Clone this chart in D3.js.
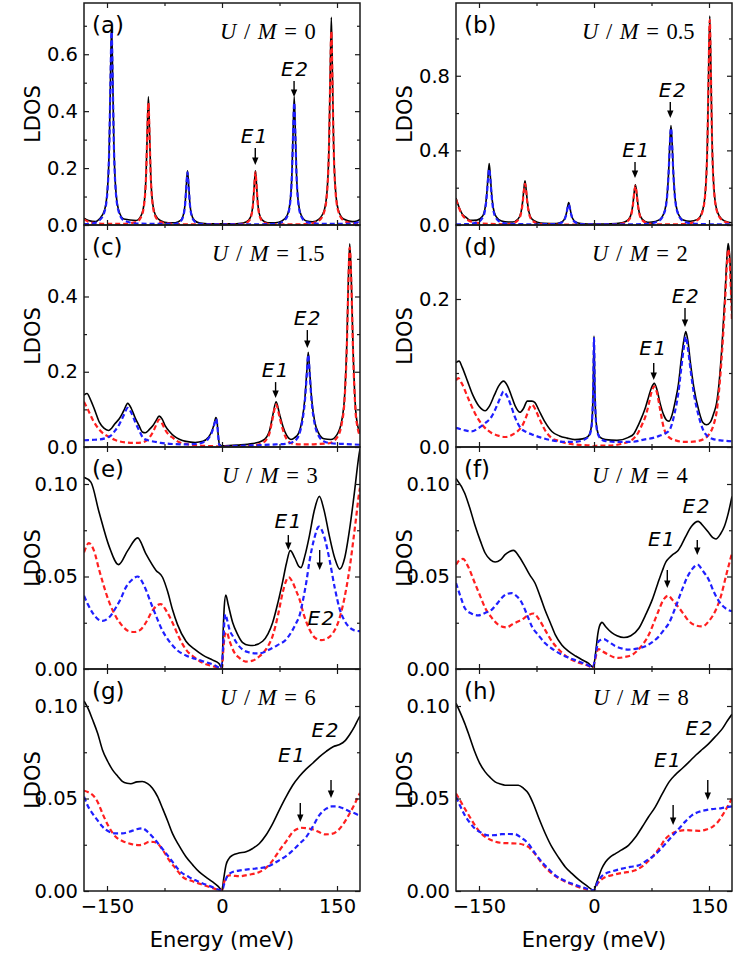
<!DOCTYPE html>
<html><head><meta charset="utf-8">
<script src="https://cdn.jsdelivr.net/npm/d3@7"></script>
<style>body{margin:0;background:#fff}svg{display:block}</style>
</head><body><svg id="c" width="734" height="956"></svg>
<script>
// ---------------- DATA ([energy meV, LDOS]) ----------------
const aBlack=[[-180,.024],[-174,.016],[-165,.012],[-160,.021],[-153,.054],[-149,.141],[-147,.284],[-145.5,.51],[-144,.70],[-142.5,.51],[-141,.284],[-139,.141],[-135,.054],[-128,.021],[-112,.016],[-105,.036],[-101,.09],[-99,.18],[-97.5,.325],[-96,.45],[-94.5,.325],[-93,.18],[-91,.09],[-87,.036],[-80,.015],[-70,.008],[-61,.008],[-54,.016],[-50,.040],[-48,.079],[-46.5,.14],[-45,.19],[-43.5,.14],[-42,.079],[-40,.040],[-36,.016],[-29,.007],[-10,.004],[10,.004],[27.6,.007],[34.6,.016],[38.6,.040],[40.6,.079],[42.1,.14],[43.6,.19],[45.1,.14],[46.6,.079],[48.6,.040],[52.6,.017],[59.6,.008],[70,.008],[78.2,.014],[85.2,.035],[89.2,.09],[91.2,.18],[92.7,.325],[94.2,.45],[95.7,.325],[97.2,.18],[99.2,.09],[103.2,.035],[110.2,.014],[118,.011],[126.6,.021],[133.6,.054],[137.6,.141],[139.6,.284],[141.1,.52],[142.6,.73],[144.1,.52],[145.6,.284],[147.6,.141],[151.6,.054],[158.6,.021],[170,.012],[176,.014],[180,.02]];
const aRed=[[-180,.020],[-174,.011],[-165,.006],[-150,.004],[-130,.004],[-112,.010],[-105,.031],[-101,.086],[-99,.176],[-97.5,.316],[-96,.43],[-94.5,.316],[-93,.176],[-91,.086],[-87,.031],[-80,.010],[-60,.003],[-20,.002],[10,.002],[27.6,.004],[34.6,.013],[38.6,.037],[40.6,.076],[42.1,.136],[43.6,.185],[45.1,.136],[46.6,.076],[48.6,.037],[52.6,.013],[59.6,.004],[80,.002],[110,.003],[126.6,.016],[133.6,.049],[137.6,.136],[139.6,.279],[141.1,.5],[142.6,.68],[144.1,.5],[145.6,.279],[147.6,.136],[151.6,.049],[158.6,.016],[170,.006],[180,.004]];
const aBlue=[[-180,.003],[-170,.005],[-160,.016],[-153,.049],[-149,.136],[-147,.279],[-145.5,.5],[-144,.68],[-142.5,.5],[-141,.279],[-139,.136],[-135,.049],[-128,.016],[-110,.005],[-75,.004],[-61,.004],[-54,.013],[-50,.037],[-48,.076],[-46.5,.136],[-45,.185],[-43.5,.136],[-42,.076],[-40,.037],[-36,.013],[-29,.004],[-10,.002],[30,.002],[70,.004],[78.2,.010],[85.2,.031],[89.2,.086],[91.2,.176],[92.7,.316],[94.2,.43],[95.7,.316],[97.2,.176],[99.2,.086],[103.2,.031],[110.2,.010],[130,.004],[160,.004],[175,.008],[180,.012]];

const bBlack=[[-180,.145],[-176,.095],[-172,.06],[-166,.038],[-161.7,.025],[-152.7,.026],[-145.7,.045],[-141.7,.10],[-139.7,.175],[-138.2,.26],[-136.7,.33],[-135.2,.26],[-133.7,.175],[-131.7,.10],[-127.7,.045],[-120.7,.022],[-111.7,.016],[-106,.016],[-99,.032],[-95,.072],[-93,.128],[-91.5,.19],[-90,.237],[-88.5,.19],[-87,.128],[-85,.072],[-81,.032],[-74,.015],[-65,.009],[-49,.008],[-42,.016],[-38,.036],[-36,.063],[-34.5,.095],[-33,.12],[-31.5,.095],[-30,.063],[-28,.036],[-24,.016],[-17,.008],[0,.005],[29,.008],[38,.013],[45,.029],[49,.067],[51,.12],[52.5,.178],[54,.215],[55.5,.178],[57,.12],[59,.067],[63,.03],[70,.015],[75.4,.016],[84.4,.026],[91.4,.066],[95.4,.16],[97.4,.29],[98.9,.44],[100.4,.533],[101.9,.44],[103.4,.29],[105.4,.16],[109.4,.066],[116.4,.027],[125.4,.02],[135,.03],[142,.083],[146,.224],[148,.455],[149.5,.82],[151,1.12],[152.5,.82],[154,.455],[156,.224],[160,.083],[167,.03],[175,.015],[180,.012]];
const bRed=[[-180,.138],[-176,.09],[-172,.055],[-166,.03],[-158,.015],[-145,.008],[-115,.004],[-106,.009],[-99,.026],[-95,.066],[-93,.121],[-91.5,.183],[-90,.22],[-88.5,.183],[-87,.121],[-85,.066],[-81,.026],[-74,.009],[-65,.004],[-30,.002],[0,.002],[25,.003],[29,.004],[38,.009],[45,.025],[49,.063],[51,.116],[52.5,.174],[54,.21],[55.5,.174],[57,.116],[59,.063],[63,.025],[70,.009],[79,.004],[100,.003],[120,.006],[135,.026],[142,.079],[146,.22],[148,.45],[149.5,.81],[151,1.10],[152.5,.81],[154,.45],[156,.22],[160,.079],[167,.026],[175,.012],[180,.009]];
const bBlue=[[-180,.003],[-170,.004],[-161.7,.006],[-152.7,.013],[-145.7,.036],[-141.7,.09],[-139.7,.165],[-138.2,.249],[-136.7,.30],[-135.2,.249],[-133.7,.165],[-131.7,.09],[-127.7,.036],[-120.7,.013],[-111.7,.006],[-80,.004],[-49,.005],[-42,.013],[-38,.033],[-36,.06],[-34.5,.091],[-33,.11],[-31.5,.091],[-30,.06],[-28,.033],[-24,.013],[-17,.005],[0,.003],[40,.003],[70,.006],[75.4,.009],[84.4,.021],[91.4,.062],[95.4,.156],[97.4,.286],[98.9,.43],[100.4,.52],[101.9,.43],[103.4,.286],[105.4,.156],[109.4,.062],[116.4,.021],[125.4,.009],[150,.004],[180,.003]];

const cBlack=[[-180,.138],[-176,.142],[-172,.128],[-166,.098],[-160,.066],[-154,.05],[-148,.044],[-144,.05],[-140,.061],[-134,.075],[-128,.097],[-123,.116],[-118,.101],[-113,.076],[-108,.056],[-104,.04],[-100,.038],[-95,.046],[-90,.057],[-86,.07],[-82,.082],[-78,.074],[-74,.056],[-68,.04],[-62,.028],[-55,.02],[-47,.015],[-35,.012],[-25,.015],[-18,.025],[-13,.043],[-10,.063],[-8,.078],[-6.5,.068],[-5,.033],[-3.5,.008],[0,.003],[20,.005],[40,.009],[52,.016],[58,.026],[62,.043],[66,.082],[70.6,.12],[75,.088],[79.4,.055],[84,.032],[90,.02],[95,.025],[100,.037],[104,.067],[108,.127],[110.5,.197],[112.5,.252],[114.5,.197],[117,.127],[121,.067],[126,.037],[133,.022],[142,.02],[150,.033],[156,.068],[160,.138],[163,.288],[165,.458],[166.6,.54],[168.5,.458],[171,.258],[174,.108],[177,.057],[180,.036]];
const cRed=[[-180,.12],[-175,.10],[-168,.07],[-160,.046],[-152,.032],[-147,.027],[-140,.019],[-134,.015],[-125,.012],[-115,.011],[-105,.012],[-97,.02],[-90,.04],[-86,.058],[-82,.073],[-78,.062],[-74,.045],[-68,.03],[-64.5,.025],[-58,.015],[-47,.008],[-30,.004],[-10,.002],[0,.001],[20,.002],[40,.004],[52,.01],[58,.02],[62,.037],[66,.075],[70.6,.113],[75,.08],[79.4,.046],[84,.022],[90,.01],[100,.007],[112,.007],[125,.008],[140,.01],[150,.025],[156,.06],[160,.13],[163,.28],[165,.45],[166.6,.53],[168.5,.45],[171,.25],[174,.1],[177,.05],[180,.03]];
const cBlue=[[-180,.018],[-170,.019],[-160,.02],[-150,.025],[-145,.03],[-140,.042],[-134,.06],[-128,.085],[-123,.104],[-118,.09],[-113,.065],[-108,.044],[-102,.022],[-95,.017],[-88,.014],[-80,.011],[-65,.008],[-50,.007],[-35,.008],[-25,.012],[-18,.022],[-13,.04],[-10,.06],[-8,.075],[-6.5,.065],[-5,.03],[-3.5,.005],[0,.001],[20,.003],[50,.005],[70,.007],[85,.009],[92,.013],[97,.02],[100,.03],[104,.06],[108,.12],[110.5,.19],[112.5,.245],[114.5,.19],[117,.12],[121,.06],[126,.03],[133,.015],[142,.01],[160,.008],[180,.006]];

const dBlack=[[-180,.114],[-176,.116],[-172,.108],[-165,.089],[-158,.07],[-150,.055],[-142,.049],[-136,.056],[-130,.07],[-124,.083],[-118,.089],[-113,.083],[-108,.07],[-103,.056],[-96.5,.047],[-92,.052],[-87,.062],[-81,.062],[-77,.06],[-72,.05],[-64,.034],[-55,.021],[-45,.015],[-35,.012],[-25,.01],[-15,.011],[-8,.014],[-4,.024],[-2,.047],[-1,.082],[0,.15],[1,.082],[2,.047],[4,.024],[8,.013],[15,.01],[30,.009],[45,.013],[52,.018],[58,.03],[63,.042],[67,.053],[71,.067],[75,.08],[78.6,.086],[82,.078],[86,.06],[91,.043],[95,.036],[98,.035],[102,.044],[106,.062],[110,.084],[114,.12],[117,.143],[119.7,.156],[122.5,.143],[126,.112],[130,.082],[137,.048],[142,.033],[146.7,.03],[152,.034],[156,.045],[160,.06],[163,.085],[167,.138],[171,.208],[173.5,.258],[175,.275],[177,.258],[179,.21],[180,.18]];
const dRed=[[-180,.09],[-177,.093],[-172,.085],[-165,.068],[-155.5,.046],[-145,.029],[-133.6,.019],[-124,.015],[-116,.0135],[-106,.017],[-99,.022],[-94,.028],[-88,.042],[-84,.053],[-81,.057],[-77,.052],[-72,.04],[-64,.023],[-55,.012],[-45,.008],[-37.5,.0054],[-20,.003],[-5,.002],[0,.001],[5,.002],[20,.002],[35,.004],[50,.01],[58,.02],[63,.031],[67,.041],[71,.056],[75,.074],[78.6,.082],[82,.074],[86,.052],[91,.026],[98,.013],[106.5,.009],[115,.007],[124,.0068],[135,.008],[145,.012],[150,.017],[156,.03],[160,.048],[163,.075],[167,.128],[171,.198],[173.5,.25],[175,.267],[177,.25],[179,.2],[180,.17]];
const dBlue=[[-180,.026],[-170,.023],[-160,.021],[-150,.026],[-142,.032],[-133.6,.041],[-127,.055],[-122,.067],[-118,.075],[-113,.068],[-108,.055],[-103,.04],[-96,.026],[-88,.02],[-81,.017],[-70,.013],[-55,.009],[-40,.007],[-25,.007],[-15,.009],[-8,.013],[-4,.022],[-2,.045],[-1,.08],[0,.147],[1,.08],[2,.045],[4,.022],[8,.012],[15,.008],[30,.007],[50,.007],[65,.01],[76,.012],[85,.015],[92,.018],[98,.022],[105,.045],[110,.073],[114,.108],[117,.133],[119.7,.149],[122.5,.133],[126,.104],[130,.074],[137,.04],[145,.018],[154.6,.011],[165,.009],[180,.0077]];

const eBlack=[[-180,.1036],[-171,.101],[-160.5,.085],[-147,.066],[-135,.0564],[-123,.064],[-110,.0709],[-99.4,.0624],[-86,.0533],[-77.6,.0496],[-71,.042],[-64.5,.032],[-58,.024],[-47,.015],[-35,.0105],[-25,.0075],[-12,.0048],[-4,.003],[0,.0005],[1.5,.02],[3,.034],[5,.040],[8,.035],[14,.025],[20,.019],[27,.0142],[35,.0128],[40,.0127],[53,.015],[60,.019],[66,.025],[73,.036],[79,.047],[84,.057],[89,.064],[95,.06],[100,.0555],[103,.0548],[108,.061],[114,.072],[120,.085],[127,.0933],[133,.086],[140,.072],[147,.06],[153.5,.054],[160,.06],[166.6,.076],[172,.093],[178.8,.116],[180,.119]];
const eRed=[[-180,.063],[-173.6,.068],[-167,.064],[-160.5,.054],[-147,.036],[-138,.028],[-130,.0233],[-122,.0205],[-114.7,.020],[-107,.021],[-99.4,.025],[-90,.032],[-80,.0351],[-72,.031],[-64.5,.025],[-56,.017],[-47,.0105],[-35,.006],[-25,.0033],[-12,.0015],[0,.0005],[2,.012],[4,.019],[6,.02],[10,.015],[16,.009],[22.7,.006],[31,.004],[40,.0045],[49,.0069],[58,.011],[66,.0178],[73,.029],[79,.041],[83,.047],[87,.0496],[92,.047],[97,.042],[101,.0378],[107,.029],[114,.0215],[121,.017],[129.5,.0156],[137,.0165],[145,.0196],[153,.027],[162,.0433],[167,.056],[171,.0687],[175,.082],[178.8,.095],[180,.098]];
const eBlue=[[-180,.0396],[-175,.035],[-169,.0305],[-162,.027],[-156,.026],[-147,.028],[-138.7,.033],[-132,.038],[-125.6,.044],[-118,.048],[-110,.05],[-104,.047],[-99.4,.043],[-93,.036],[-86,.0287],[-78,.021],[-69,.0151],[-58,.01],[-47,.0073],[-35,.0055],[-25,.0042],[-12,.0025],[-1.3,.0005],[1.5,.012],[3,.025],[4.4,.0296],[7,.026],[10,.021],[14,.0178],[20,.0135],[27,.0105],[35,.009],[44.5,.0084],[53,.0088],[62,.0105],[72,.0128],[83.7,.016],[92,.021],[97,.025],[101,.0287],[106,.038],[110,.047],[114,.058],[120,.07],[126.5,.077],[133,.072],[140,.0596],[147,.044],[153.5,.0324],[160,.026],[166.6,.0224],[172,.021],[178.8,.0205],[180,.0205]];

const fBlack=[[-180,.103],[-168.6,.095],[-162,.087],[-155.5,.078],[-148,.069],[-142,.0627],[-135,.059],[-129,.0578],[-122,.059],[-116,.0618],[-110,.0635],[-105,.0641],[-98,.061],[-90,.0555],[-84,.051],[-77,.0465],[-70,.039],[-64,.032],[-57,.025],[-50.6,.0186],[-42,.013],[-33,.0095],[-24,.007],[-15.7,.005],[-7,.003],[-1.3,.001],[1,.005],[3,.012],[5,.019],[7,.023],[10.5,.0252],[15,.023],[23.6,.0195],[30,.018],[39,.017],[48,.018],[58.5,.022],[67,.029],[76,.0375],[83,.046],[89,.053],[94,.058],[98,.06],[103,.062],[108.7,.0636],[114,.067],[119.7,.0717],[127,.077],[135.8,.0798],[143,.077],[150,.0735],[155,.071],[159,.0703],[165,.073],[170,.077],[175,.084],[180,.0933]];
const fRed=[[-180,.0564],[-175,.059],[-170.7,.0595],[-165,.056],[-155.5,.0465],[-148,.039],[-142,.033],[-134,.028],[-125,.024],[-119,.0228],[-114,.0225],[-107,.024],[-100,.0255],[-94,.0267],[-86,.029],[-79,.030],[-72,.027],[-64,.0213],[-55,.015],[-46,.0105],[-35,.0065],[-24.5,.0041],[-12,.0025],[-1.3,.001],[2,.006],[4,.0095],[6,.0108],[10,.0098],[19,.0077],[25,.0065],[32,.006],[40,.0065],[50,.0077],[60,.0115],[71.6,.0186],[78,.025],[84.7,.032],[90,.037],[96.5,.0396],[103,.037],[111,.033],[118,.029],[124,.0258],[133,.0235],[141.5,.023],[150,.026],[159,.032],[166,.040],[172,.050],[177,.058],[180,.0627]];
const fBlue=[[-180,.0465],[-174,.039],[-168.6,.033],[-160,.030],[-151,.029],[-142,.0303],[-133.6,.032],[-127,.035],[-120.5,.0384],[-114,.0405],[-107.4,.041],[-100,.039],[-94,.0357],[-87,.029],[-81,.023],[-72,.018],[-64,.014],[-53,.0105],[-42,.0077],[-31,.0058],[-20,.0041],[-10,.0025],[-1.3,.001],[1.5,.006],[3.5,.011],[6,.015],[9,.0158],[12.7,.0162],[18,.015],[28,.0123],[37,.011],[45,.0105],[56,.011],[67,.0123],[76,.0145],[84.7,.0177],[91,.021],[98,.025],[106,.033],[115,.043],[122,.05],[128,.054],[135,.0564],[142,.053],[150,.048],[156,.042],[163,.0366],[171,.033],[180,.0312]];

const gBlack=[[-180,.1027],[-174,.098],[-169,.0928],[-162,.085],[-156,.0764],[-149,.070],[-143,.0656],[-136,.062],[-130,.0592],[-124,.0582],[-119,.058],[-111,.059],[-104,.0592],[-97,.058],[-90.7,.0556],[-84,.051],[-77.6,.0447],[-71,.038],[-64.5,.031],[-56,.0245],[-47,.0185],[-38,.014],[-29.7,.0103],[-21,.0075],[-12.2,.0049],[-5,.0025],[0,.0004],[2,.006],[5.2,.014],[9,.0175],[14,.0194],[22,.0205],[31.4,.0212],[40,.023],[48.8,.0257],[57,.030],[66.3,.0366],[75,.044],[83.7,.051],[92,.057],[101,.062],[110,.066],[118.6,.0692],[127,.0725],[136,.0755],[145,.078],[153.5,.0792],[160,.081],[166.6,.0846],[173,.089],[178.8,.0937],[180,.0945]];
const gRed=[[-180,.0542],[-175,.0535],[-169,.052],[-162,.048],[-156,.042],[-148,.035],[-138.7,.0293],[-130,.027],[-121,.0257],[-114,.025],[-108,.0248],[-101,.0255],[-95,.0266],[-89,.0265],[-84,.0257],[-77,.022],[-69,.0167],[-60,.012],[-51.5,.0076],[-40,.0055],[-29.7,.004],[-15,.002],[0,.0004],[3,.005],[6,.0075],[9.6,.0085],[16,.0082],[22.7,.008],[35,.0088],[48.8,.0103],[60,.0135],[67,.017],[75,.022],[84,.027],[92.5,.032],[98,.0335],[103,.0342],[110,.034],[118.6,.0333],[126,.032],[134,.0306],[142,.0308],[149,.032],[157,.0355],[166.6,.042],[173,.047],[178.8,.052],[180,.053]];
const gBlue=[[-180,.051],[-175,.046],[-169,.042],[-162,.038],[-156,.0348],[-147,.032],[-138.7,.0312],[-130,.0312],[-121,.032],[-112,.0333],[-104,.0339],[-97,.032],[-90.7,.0293],[-82,.025],[-73,.0203],[-64,.0155],[-56,.0112],[-43,.0075],[-29.7,.0049],[-15,.0025],[0,.0004],[3,.004],[7,.008],[14,.0103],[22,.011],[31.4,.0116],[45,.0122],[57.6,.013],[66,.0145],[75,.0167],[84,.019],[92.5,.022],[101,.0255],[110,.0293],[118,.0345],[127,.041],[136,.0445],[143,.0457],[149,.0457],[156,.045],[166.6,.043],[173,.042],[178.8,.041],[180,.041]];

const hBlack=[[-180,.1015],[-174,.096],[-168.6,.0906],[-162,.083],[-155.5,.0753],[-149,.069],[-142,.0644],[-135,.0612],[-129,.059],[-122,.0578],[-116,.0572],[-107,.0572],[-98.7,.0572],[-92,.0555],[-85.6,.0527],[-79,.047],[-72.5,.040],[-64,.0315],[-55,.0238],[-46,.018],[-37.5,.013],[-29,.0095],[-20,.0061],[-10,.003],[0,.0004],[3,.004],[6,.0076],[10,.012],[15,.0157],[21,.0183],[28,.0202],[36,.0222],[45,.0247],[54,.029],[63,.0347],[71,.040],[80,.0455],[89,.0525],[98,.059],[106,.0628],[115,.0662],[124,.0698],[133,.0735],[141,.0765],[150,.0798],[159,.0838],[167.7,.0879],[174,.092],[180,.0955]];
const hRed=[[-180,.0527],[-174,.0485],[-168.6,.0446],[-162,.040],[-155.5,.0356],[-147,.031],[-138,.0283],[-129,.0267],[-120.5,.026],[-110,.0258],[-98.7,.0256],[-92,.025],[-85.6,.0238],[-79,.021],[-72.5,.0175],[-64,.013],[-55,.0094],[-42,.006],[-29,.0036],[-15,.0015],[0,.0004],[4,.0035],[9,.006],[15,.0076],[24,.0086],[32,.0094],[43,.0102],[54,.0112],[65,.014],[76,.0184],[85,.023],[93.4,.0283],[100,.0305],[106.5,.032],[113,.0326],[119.7,.0329],[128,.0327],[137,.0325],[146,.0332],[154.6,.0347],[161,.037],[167.7,.041],[174,.0455],[180,.050]];
const hBlue=[[-180,.0509],[-174,.0455],[-168.6,.041],[-162,.037],[-155.5,.0338],[-147,.0315],[-138,.0301],[-129,.0302],[-120.5,.0307],[-111,.0308],[-103,.0307],[-95,.0288],[-85.6,.0256],[-77,.0205],[-68,.0157],[-59,.0118],[-50.6,.0085],[-40,.006],[-29,.004],[-15,.002],[0,.0004],[4,.004],[9,.0075],[15,.0094],[25,.0108],[36.7,.0121],[47,.013],[58.5,.0139],[67,.016],[76,.0184],[85,.0218],[93.4,.0256],[102,.0297],[111,.0338],[119,.0375],[128,.041],[137,.0428],[146,.0437],[154,.0443],[163,.0446],[171,.0452],[180,.0458]];

// tick values
const xMajor=[-150,0,150], xMinor=[-75,75];
const yMajorA=[0,0.2,0.4,0.6], yMinorA=[0.1,0.3,0.5,0.7];
const yMajorB=[0,0.4,0.8], yMinorB=[0.2,0.6,1.0];
const yMajorC=[0,0.2,0.4], yMinorC=[0.1,0.3,0.5];
const yMajorD=[0,0.2], yMinorD=[0.1];
const yMajorE=[0,0.05,0.10], yMinorE=[0.025,0.075];
const umValues=["0","0.5","1.5","2","3","4","6","8"];
const panelLabels=["(a)","(b)","(c)","(d)","(e)","(f)","(g)","(h)"];
// annotations: label, arrow energy, arrow tip LDOS, arrow length px, label energy, label baseline LDOS
const annA=[["E1",43.4,.211,17,42.8,.288],["E2",94,.45,16,95.6,.524]];
const annB=[["E1",53.5,.252,16,55.4,.364],["E2",99.5,.573,16,103,.686]];
const annC=[["E1",69.9,.130,16,70.2,.186],["E2",111.3,.263,18,112,.324]];
const annD=[["E1",77.9,.0905,17,77.6,.124],["E2",118.7,.162,19,120,.195]];
const annE=[["E1",86.5,.0643,15,87.1,.0762],["E2",127.4,.0535,20,130,.0238]];
const annF=[["E1",95.6,.0438,18,88.9,.0665],["E2",134.7,.0616,15,134,.0843]];
const annG=[["E1",102.1,.0373,19,91.7,.0697],["E2",142.2,.0503,18,135.4,.0832]];
const annH=[["E1",103.2,.0357,20,96.7,.067],["E2",148.4,.0492,20,137.9,.0843]];

// ---------------- LAYOUT ----------------
const xDomain=[-180,180];
const colX=[84,456], rowY=[3,225,447,669], W=276, H=222;
const panels=[
 {col:0,row:0,ymax:0.78,maj:yMajorA,min:yMinorA,fmt:".1f",k:aBlack,r:aRed,b:aBlue,ann:annA,umx:136},
 {col:1,row:0,ymax:1.19,maj:yMajorB,min:yMinorB,fmt:".1f",k:bBlack,r:bRed,b:bBlue,ann:annB,umx:126},
 {col:0,row:1,ymax:0.59,maj:yMajorC,min:yMinorC,fmt:".1f",k:cBlack,r:cRed,b:cBlue,ann:annC,umx:128},
 {col:1,row:1,ymax:0.30,maj:yMajorD,min:yMinorD,fmt:".1f",k:dBlack,r:dRed,b:dBlue,ann:annD,umx:136},
 {col:0,row:2,ymax:0.12,maj:yMajorE,min:yMinorE,fmt:".2f",k:eBlack,r:eRed,b:eBlue,ann:annE,umx:138},
 {col:1,row:2,ymax:0.12,maj:yMajorE,min:yMinorE,fmt:".2f",k:fBlack,r:fRed,b:fBlue,ann:annF,umx:136},
 {col:0,row:3,ymax:0.12,maj:yMajorE,min:yMinorE,fmt:".2f",k:gBlack,r:gRed,b:gBlue,ann:annG,umx:136},
 {col:1,row:3,ymax:0.12,maj:yMajorE,min:yMinorE,fmt:".2f",k:hBlack,r:hRed,b:hBlue,ann:annH,umx:137}
];
const SANS="'DejaVu Sans', sans-serif", SERIF="'Liberation Serif','Times New Roman',serif";
const svg=d3.select("#c");
const defs=svg.append("defs");

function styleAxis(g, labels){
  g.select(".domain").remove();
  g.selectAll(".tick line").attr("stroke","#1a1a1a").attr("stroke-width",1.2);
  g.attr("font-family",SANS).attr("font-size",19.5);
  g.selectAll(".tick text").attr("fill","#000");
  if(!labels) g.selectAll(".tick text").remove();
}

panels.forEach((p,i)=>{
  const x0=colX[p.col], y0=rowY[p.row];
  const x=d3.scaleLinear().domain(xDomain).range([x0,x0+W]);
  const y=d3.scaleLinear().domain([0,p.ymax]).range([y0+H,y0]);
  const g=svg.append("g");
  const cid="clip"+i;
  defs.append("clipPath").attr("id",cid).append("rect").attr("x",x0).attr("y",y0).attr("width",W).attr("height",H);
  const line=d3.line().x(d=>x(d[0])).y(d=>y(d[1])).curve(d3.curveMonotoneX);
  const lg=g.append("g").attr("clip-path",`url(#${cid})`);
  lg.append("path").attr("d",line(p.k)).attr("fill","none").attr("stroke","#000").attr("stroke-width",1.6);
  lg.append("path").attr("d",line(p.r)).attr("fill","none").attr("stroke","#ff1f1f").attr("stroke-width",2.2).attr("stroke-dasharray","5,3");
  lg.append("path").attr("d",line(p.b)).attr("fill","none").attr("stroke","#1f1fff").attr("stroke-width",2.2).attr("stroke-dasharray","5,3");

  const bottomLabels = p.row===3;
  styleAxis(g.append("g").attr("transform",`translate(0,${y0+H})`).call(d3.axisBottom(x).tickValues(xMajor).tickSize(-5).tickPadding(8).tickFormat(d3.format("d"))), bottomLabels);
  styleAxis(g.append("g").attr("transform",`translate(0,${y0+H})`).call(d3.axisBottom(x).tickValues(xMinor).tickSize(-3).tickFormat("")), false);
  styleAxis(g.append("g").attr("transform",`translate(0,${y0})`).call(d3.axisTop(x).tickValues(xMajor).tickSize(-5).tickFormat("")), false);
  styleAxis(g.append("g").attr("transform",`translate(0,${y0})`).call(d3.axisTop(x).tickValues(xMinor).tickSize(-3).tickFormat("")), false);
  styleAxis(g.append("g").attr("transform",`translate(${x0},0)`).call(d3.axisLeft(y).tickValues(p.maj).tickSize(-5).tickPadding(6).tickFormat(d3.format(p.fmt))), true);
  styleAxis(g.append("g").attr("transform",`translate(${x0},0)`).call(d3.axisLeft(y).tickValues(p.min).tickSize(-3).tickFormat("")), false);
  styleAxis(g.append("g").attr("transform",`translate(${x0+W},0)`).call(d3.axisRight(y).tickValues(p.maj).tickSize(-5).tickFormat("")), false);
  styleAxis(g.append("g").attr("transform",`translate(${x0+W},0)`).call(d3.axisRight(y).tickValues(p.min).tickSize(-3).tickFormat("")), false);

  g.append("rect").attr("x",x0).attr("y",y0).attr("width",W).attr("height",H).attr("fill","none").attr("stroke","#1a1a1a").attr("stroke-width",1.5);

  // y label
  g.append("text").attr("transform",`translate(${x0-52},${y0+H/2}) rotate(-90)`).attr("text-anchor","middle").attr("dy","0.36em")
    .attr("font-family",SANS).attr("font-size",21).text("LDOS");
  // panel label
  g.append("text").attr("x",x0+8).attr("y",y0+30).attr("font-family",SANS).attr("font-size",23).text(panelLabels[i]);
  // U/M
  const t=g.append("text").attr("x",x0+p.umx).attr("y",y0+36).attr("font-family",SERIF).attr("font-size",22.5).attr("word-spacing","2px").style("white-space","pre");
  t.append("tspan").attr("font-style","italic").text("U");
  t.append("tspan").text(" / ");
  t.append("tspan").attr("font-style","italic").text("M");
  t.append("tspan").text(" = "+umValues[i]);
  // annotations
  p.ann.forEach(a=>{
    const ax=x(a[1]), ty=y(a[2]), len=a[3];
    g.append("line").attr("x1",ax).attr("x2",ax).attr("y1",ty-len).attr("y2",ty-5).attr("stroke","#000").attr("stroke-width",1.4);
    g.append("path").attr("d",`M${ax},${ty}L${ax-3.2},${ty-7.5}L${ax+3.2},${ty-7.5}Z`).attr("fill","#000");
    g.append("text").attr("x",x(a[4])).attr("y",y(a[5])).attr("text-anchor","middle").attr("font-family",SANS)
      .attr("font-style","italic").attr("font-size",20).attr("letter-spacing","1.5px").text(a[0]);
  });
  if(bottomLabels){
    g.append("text").attr("x",x(0)).attr("y",947).attr("text-anchor","middle").attr("font-family",SANS).attr("font-size",21).text("Energy (meV)");
  }
});
</script></body></html>
